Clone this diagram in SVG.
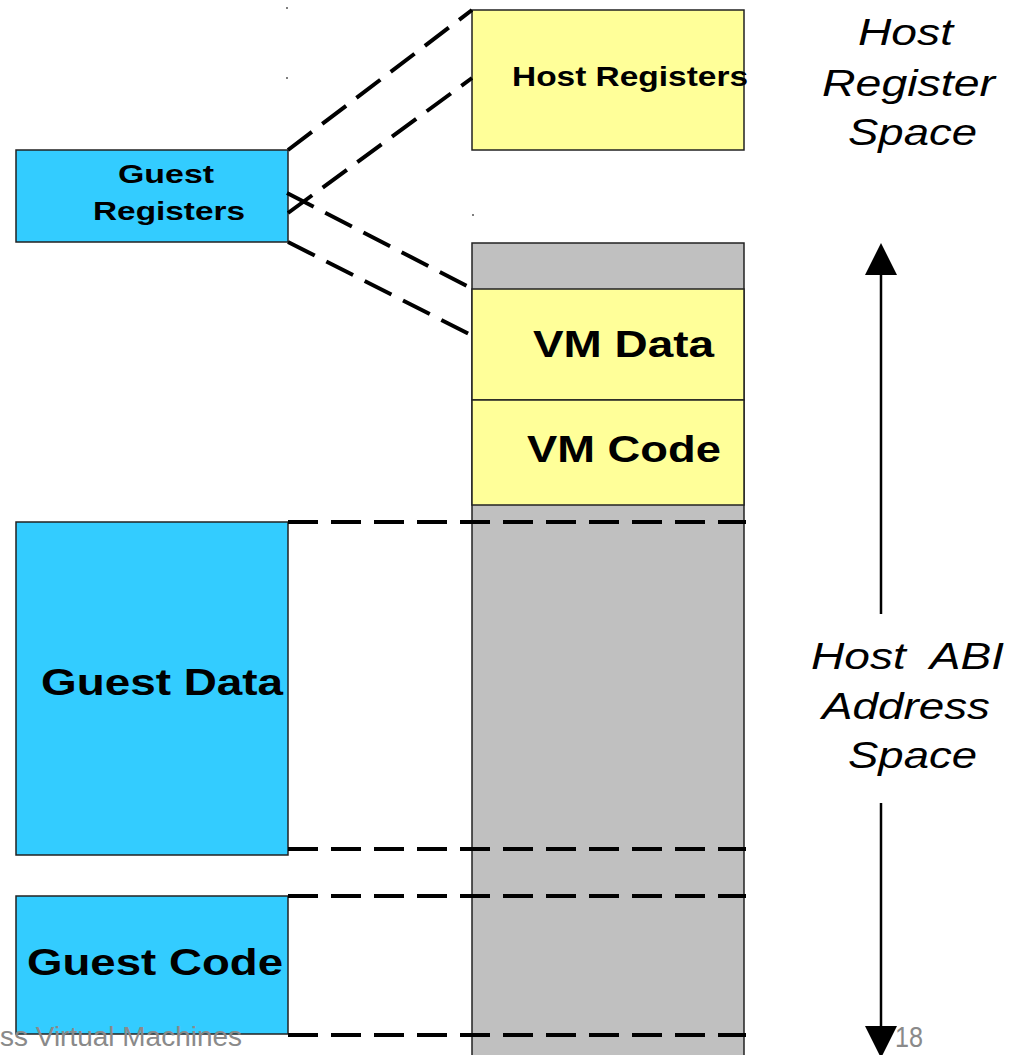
<svg xmlns="http://www.w3.org/2000/svg" width="1015" height="1055" viewBox="0 0 1015 1055">
  <style>
    .box { stroke: #222; stroke-width: 1.5; }
    .guest { fill: #33ccff; }
    .host { fill: #ffff99; }
    .mem { fill: #c0c0c0; }
    .lbl { font-family: "Liberation Sans", Arial, sans-serif; font-weight: bold; fill: #000; }
    .side { font-family: "Liberation Sans", Arial, sans-serif; font-style: italic; fill: #000; font-size: 36px; white-space: pre; }
    .foot { font-family: "Liberation Sans", Arial, sans-serif; fill: #8a8a8a; }
    .map { fill: none; stroke: #000; stroke-width: 4; stroke-dasharray: 30 13; }
    .axis { fill: none; stroke: #000; stroke-width: 2.5; }
  </style>
  <defs>
    <marker id="head" markerUnits="userSpaceOnUse" markerWidth="32" markerHeight="32" viewBox="0 0 32 32" refX="0" refY="16" orient="auto-start-reverse">
      <path d="M0,0 L32,16 L0,32 z" fill="#000"/>
    </marker>
  </defs>
  <rect width="1015" height="1055" fill="#fff"/>

  <!-- host address space column -->
  <g id="host-memory">
    <rect class="box mem" x="472" y="243" width="272" height="820"/>
  </g>
  <g id="vm-data">
    <rect class="box host" x="472" y="289" width="272" height="111"/>
    <text class="lbl" x="533" y="357" font-size="37" textLength="181" lengthAdjust="spacingAndGlyphs">VM Data</text>
  </g>
  <g id="vm-code">
    <rect class="box host" x="472" y="400" width="272" height="105"/>
    <text class="lbl" x="527" y="462" font-size="37" textLength="194" lengthAdjust="spacingAndGlyphs">VM Code</text>
  </g>

  <g id="host-registers">
    <rect class="box host" x="472" y="10" width="272" height="140"/>
    <text class="lbl" x="512" y="86" font-size="28" textLength="236" lengthAdjust="spacingAndGlyphs">Host Registers</text>
  </g>

  <g id="guest-registers">
    <rect class="box guest" x="16" y="150" width="272" height="92"/>
    <text class="lbl" x="118" y="183" font-size="26" textLength="96" lengthAdjust="spacingAndGlyphs">Guest</text>
    <text class="lbl" x="93" y="220" font-size="26" textLength="152" lengthAdjust="spacingAndGlyphs">Registers</text>
  </g>

  <g id="guest-data">
    <rect class="box guest" x="16" y="522" width="272" height="333"/>
    <text class="lbl" x="41" y="695" font-size="37" textLength="242" lengthAdjust="spacingAndGlyphs">Guest Data</text>
  </g>

  <g id="guest-code">
    <rect class="box guest" x="16" y="896" width="272" height="138"/>
    <text class="lbl" x="27" y="975" font-size="37" textLength="256" lengthAdjust="spacingAndGlyphs">Guest Code</text>
  </g>

  <!-- mapping lines and the address-space axis -->
  <g id="connectors">
    <line class="map" x1="288" y1="150" x2="472" y2="10"/>
    <line class="map" x1="288" y1="213" x2="472" y2="78"/>
    <line class="map" x1="287" y1="193" x2="471" y2="288"/>
    <line class="map" x1="288" y1="242" x2="471" y2="335"/>
    <line class="map" x1="288" y1="522" x2="746" y2="522"/>
    <line class="map" x1="288" y1="849" x2="746" y2="849"/>
    <line class="map" x1="288" y1="896" x2="746" y2="896"/>
    <line class="map" x1="288" y1="1035" x2="746" y2="1035"/>
    <line class="axis" x1="881" y1="275" x2="881" y2="614" marker-start="url(#head)"/>
    <line class="axis" x1="881" y1="803" x2="881" y2="1026" marker-end="url(#head)"/>
  </g>

  <g id="register-space-label">
    <text class="side" x="858" y="45" textLength="95" lengthAdjust="spacingAndGlyphs">Host</text>
    <text class="side" x="822" y="96" textLength="173" lengthAdjust="spacingAndGlyphs">Register</text>
    <text class="side" x="848" y="145" textLength="129" lengthAdjust="spacingAndGlyphs">Space</text>
  </g>

  <g id="address-space-label">
    <text class="side" x="811" y="669" textLength="193" lengthAdjust="spacingAndGlyphs">Host  ABI</text>
    <text class="side" x="822" y="719" textLength="168" lengthAdjust="spacingAndGlyphs">Address</text>
    <text class="side" x="848" y="768" textLength="129" lengthAdjust="spacingAndGlyphs">Space</text>
  </g>

  <!-- small specks -->
  <g fill="#555">
    <circle cx="287" cy="8" r="1"/>
    <circle cx="287" cy="78" r="1"/>
    <circle cx="473" cy="215" r="1"/>
  </g>

  <g id="footer">
    <text class="foot" x="0" y="1046" font-size="27" textLength="242" lengthAdjust="spacingAndGlyphs">ss Virtual Machines</text>
    <text class="foot" x="895" y="1047" font-size="29" textLength="28" lengthAdjust="spacingAndGlyphs">18</text>
  </g>
</svg>
